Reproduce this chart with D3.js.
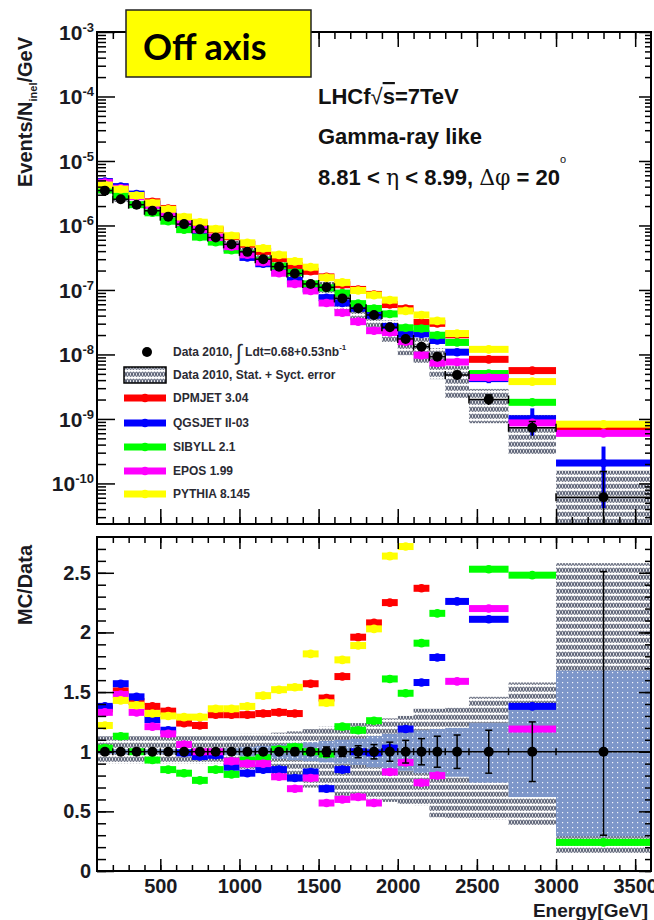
<!DOCTYPE html>
<html>
<head>
<meta charset="utf-8">
<script src="https://cdn.jsdelivr.net/npm/d3@7"></script>
<style>
  body { margin: 0; background: #fff; }
  svg { display: block; font-family: "Liberation Sans", Arial, sans-serif; }
</style>
</head>
<body>
<div id="chart"></div>
<script>
//Bin edges in GeV (26 bins)
var binEdges = [100, 200, 300, 400, 500, 600, 700, 800, 900, 1000, 1100, 1200, 1300,
  1400, 1500, 1600, 1700, 1800, 1900, 2000, 2100, 2200, 2300, 2450, 2700, 3000, 3600];

//Measured spectrum, Events/N_inel/GeV
var dataFlux = [3.47e-6, 2.55e-6, 2.10e-6, 1.69e-6, 1.37e-6, 1.05e-6, 8.7e-7, 6.5e-7,
  5.1e-7, 3.9e-7, 3.0e-7, 2.3e-7, 1.8e-7, 1.24e-7, 1.10e-7, 7.4e-8, 5.2e-8, 4.1e-8,
  2.64e-8, 1.74e-8, 1.32e-8, 9.2e-9, 4.8e-9, 2.0e-9, 7.3e-10, 6.1e-11];

//Relative stat errors of data (down / up)
var dataErrLo = [0.01, 0.01, 0.01, 0.01, 0.01, 0.015, 0.015, 0.015, 0.015, 0.02, 0.02, 0.02,
  0.03, 0.03, 0.04, 0.04, 0.05, 0.06, 0.08, 0.095, 0.11, 0.13, 0.14, 0.18, 0.25, 0.70];
var dataErrHi = [0.01, 0.01, 0.01, 0.01, 0.01, 0.015, 0.015, 0.015, 0.015, 0.02, 0.02, 0.02,
  0.03, 0.03, 0.04, 0.04, 0.05, 0.06, 0.08, 0.095, 0.11, 0.13, 0.14, 0.18, 0.25, 1.51];

//MC / Data ratios
var dpmjetRatio = [1.36, 1.51, 1.42, 1.38, 1.34, 1.24, 1.22, 1.31, 1.31, 1.31, 1.32, 1.33,
  1.32, 1.57, 1.45, 1.63, 1.96, 2.08, 2.25, 2.95, 2.37, 3.3, 4.2, 4.2, 7.7, 11.5];
var qgsjetRatio = [1.38, 1.57, 1.46, 1.27, 1.18, 0.99, 0.96, 0.97, 0.87, 0.82, 0.85, 0.85,
  0.78, 0.83, 0.69, 0.85, 1.0, 0.99, 1.03, 1.19, 1.58, 1.79, 2.26, 2.11, 1.38, 3.4];
var sibyllRatio = [1.03, 1.13, 1.0, 0.93, 0.85, 0.82, 0.76, 0.85, 0.81, 0.93, 0.95, 1.02,
  1.04, 1.0, 0.98, 1.21, 1.18, 1.26, 1.61, 1.49, 1.91, 2.16, 3.2, 2.53, 2.48, 0.24];
var eposRatio = [1.33, 1.48, 1.33, 1.21, 1.15, 1.06, 1.0, 1.0, 0.92, 0.90, 0.90, 0.79,
  0.69, 0.78, 0.57, 0.60, 0.62, 0.57, 0.83, 0.91, 0.74, 0.80, 1.59, 2.2, 1.19, 9.8];
var pythiaRatio = [1.22, 1.43, 1.39, 1.32, 1.30, 1.29, 1.29, 1.36, 1.36, 1.38, 1.47, 1.52,
  1.54, 1.82, 1.41, 1.77, 1.89, 2.03, 2.64, 2.72, 3.1, 3.6, 4.4, 6.0, 5.2, 13.6];

//QGSJET statistical error (relative), visible only at high energy
var qgsjetStatErr = [0, 0, 0, 0, 0, 0, 0, 0, 0, 0, 0, 0, 0, 0, 0, 0, 0, 0, 0, 0, 0, 0, 0,
  0.15, 0.45, 0.8];

//Stat + syst band (ratio to data)
var totalBandLo = [0.90, 0.90, 0.90, 0.90, 0.90, 0.90, 0.90, 0.90, 0.90, 0.85, 0.83, 0.80,
  0.75, 0.70, 0.66, 0.63, 0.61, 0.60, 0.58, 0.56, 0.55, 0.45, 0.44, 0.43, 0.38, 0.15];
var totalBandHi = [1.13, 1.13, 1.13, 1.13, 1.13, 1.13, 1.13, 1.13, 1.13, 1.15, 1.15, 1.16,
  1.17, 1.19, 1.21, 1.22, 1.24, 1.26, 1.28, 1.30, 1.36, 1.36, 1.37, 1.46, 1.58, 2.58];
//Inner (blue) band
var innerBandLo = [0.98, 0.98, 0.98, 0.98, 0.98, 0.98, 0.98, 0.98, 0.97, 0.96, 0.95, 0.94,
  0.93, 0.92, 0.91, 0.90, 0.89, 0.87, 0.85, 0.84, 0.82, 0.80, 0.79, 0.74, 0.62, 0.29];
var innerBandHi = [1.02, 1.02, 1.02, 1.02, 1.02, 1.02, 1.02, 1.02, 1.03, 1.04, 1.05, 1.06,
  1.07, 1.08, 1.09, 1.10, 1.11, 1.13, 1.15, 1.16, 1.18, 1.19, 1.20, 1.24, 1.40, 1.68];

var modelNames = ["DPMJET 3.04", "QGSJET II-03", "SIBYLL 2.1", "EPOS 1.99", "PYTHIA 8.145"];
var modelColors = ["#ff0000", "#0000ff", "#00ff00", "#ff00ff", "#ffff00"];
var modelRatios = [dpmjetRatio, qgsjetRatio, sibyllRatio, eposRatio, pythiaRatio];

//Tick labels
var energyTicks = [500, 1000, 1500, 2000, 2500, 3000, 3500];
var fluxDecades = [-3, -4, -5, -6, -7, -8, -9, -10];
var ratioTicks = [0, 0.5, 1, 1.5, 2, 2.5];

//SVG size
var svgWidth = 654;
var svgHeight = 920;

//Panel frames
var plotLeft = 97, plotRight = 651;
var topY0 = 32, topY1 = 524;
var ratioY0 = 537, ratioY1 = 871;

var svg = d3.select("#chart")
  .append("svg")
  .attr("width", svgWidth)
  .attr("height", svgHeight);

var defs = svg.append("defs");

//Hatch pattern for stat+syst error
var hatch = defs.append("pattern")
  .attr("id", "hatch")
  .attr("width", 6).attr("height", 7)
  .attr("patternUnits", "userSpaceOnUse");
hatch.append("rect").attr("width", 6).attr("height", 7).attr("fill", "#fff");
[1.5, 4.5].forEach(function(cx) {
  hatch.append("ellipse")
    .attr("cx", cx).attr("cy", 3.2)
    .attr("rx", 1).attr("ry", 2.2)
    .attr("fill", "none")
    .attr("stroke", "#5f6578")
    .attr("stroke-width", 1.1);
});

//Dotted blue pattern for inner band
var dots = defs.append("pattern")
  .attr("id", "bluedots")
  .attr("width", 5).attr("height", 5)
  .attr("patternUnits", "userSpaceOnUse");
dots.append("rect").attr("width", 5).attr("height", 5).attr("fill", "#7d96c9");
dots.append("rect").attr("x", 2).attr("y", 2).attr("width", 1.2).attr("height", 1.2).attr("fill", "#f4f6fb");

defs.append("clipPath").attr("id", "clipTop")
  .append("rect")
  .attr("x", plotLeft).attr("y", topY0)
  .attr("width", plotRight - plotLeft).attr("height", topY1 - topY0);
defs.append("clipPath").attr("id", "clipRatio")
  .append("rect")
  .attr("x", plotLeft).attr("y", ratioY0)
  .attr("width", plotRight - plotLeft).attr("height", ratioY1 - ratioY0);

//Scales
var xScale = d3.scaleLinear().domain([100, 3600]).range([plotLeft, plotRight]);
var yFlux = d3.scaleLog().domain([2.35e-11, 1e-3]).range([topY1, topY0]);
var yRatio = d3.scaleLinear().domain([0, 2.8]).range([ratioY1, ratioY0]);

//Bin table
var bins = dataFlux.map(function(v, i) {
  return {
    lo: binEdges[i], hi: binEdges[i + 1], mid: (binEdges[i] + binEdges[i + 1]) / 2,
    flux: v, errLo: dataErrLo[i], errHi: dataErrHi[i],
    bandLo: totalBandLo[i], bandHi: totalBandHi[i],
    innerLo: innerBandLo[i], innerHi: innerBandHi[i]
  };
});
var models = modelNames.map(function(name, i) {
  return { name: name, color: modelColors[i], ratio: modelRatios[i] };
});

// ---------- TOP PANEL ----------
var topG = svg.append("g").attr("clip-path", "url(#clipTop)");

//Data stat+syst band
topG.selectAll("rect.band").data(bins).enter().append("rect")
  .attr("class", "band")
  .attr("x", d => xScale(d.lo))
  .attr("width", d => xScale(d.hi) - xScale(d.lo))
  .attr("y", d => yFlux(d.flux * d.bandHi))
  .attr("height", d => yFlux(d.flux * d.bandLo) - yFlux(d.flux * d.bandHi))
  .attr("fill", "url(#hatch)");

//MC histograms
models.forEach(function(m) {
  var g = topG.append("g");
  g.selectAll("rect").data(bins).enter().append("rect")
    .attr("x", d => xScale(d.lo))
    .attr("width", d => xScale(d.hi) - xScale(d.lo))
    .attr("y", (d, i) => yFlux(d.flux * m.ratio[i]) - 3.5)
    .attr("height", 7)
    .attr("fill", m.color);
  if (m.ratio === qgsjetRatio) {
    g.selectAll("line").data(bins).enter().append("line")
      .attr("x1", d => xScale(d.mid)).attr("x2", d => xScale(d.mid))
      .attr("y1", (d, i) => yFlux(d.flux * m.ratio[i] * (1 + qgsjetStatErr[i])))
      .attr("y2", (d, i) => yFlux(d.flux * m.ratio[i] * (1 - qgsjetStatErr[i])))
      .attr("stroke", m.color).attr("stroke-width", 4);
  }
  g.selectAll("circle").data(bins).enter().append("circle")
    .attr("cx", d => xScale(d.mid))
    .attr("cy", (d, i) => yFlux(d.flux * m.ratio[i]))
    .attr("r", 4.3)
    .attr("fill", m.color);
});

//Data points
var dataTop = topG.append("g").attr("stroke", "#000").attr("stroke-width", 1.5);
dataTop.selectAll("line.h").data(bins).enter().append("line")
  .attr("x1", d => xScale(d.lo)).attr("x2", d => xScale(d.hi))
  .attr("y1", d => yFlux(d.flux)).attr("y2", d => yFlux(d.flux));
dataTop.selectAll("line.capl").data(bins).enter().append("line")
  .attr("x1", d => xScale(d.lo)).attr("x2", d => xScale(d.lo))
  .attr("y1", d => yFlux(d.flux) - 4).attr("y2", d => yFlux(d.flux) + 4);
dataTop.selectAll("line.capr").data(bins).enter().append("line")
  .attr("x1", d => xScale(d.hi)).attr("x2", d => xScale(d.hi))
  .attr("y1", d => yFlux(d.flux) - 4).attr("y2", d => yFlux(d.flux) + 4);
dataTop.selectAll("line.v").data(bins).enter().append("line")
  .attr("x1", d => xScale(d.mid)).attr("x2", d => xScale(d.mid))
  .attr("y1", d => yFlux(d.flux * (1 + d.errHi)))
  .attr("y2", d => yFlux(Math.max(d.flux * (1 - d.errLo), 1e-12)));
dataTop.selectAll("line.vcap").data(bins).enter().append("line")
  .attr("x1", d => xScale(d.mid) - 3.5).attr("x2", d => xScale(d.mid) + 3.5)
  .attr("y1", d => yFlux(d.flux * (1 + d.errHi)))
  .attr("y2", d => yFlux(d.flux * (1 + d.errHi)));
topG.append("g").selectAll("circle").data(bins).enter().append("circle")
  .attr("cx", d => xScale(d.mid)).attr("cy", d => yFlux(d.flux))
  .attr("r", 5).attr("fill", "#000");

// ---------- RATIO PANEL ----------
var ratioG = svg.append("g").attr("clip-path", "url(#clipRatio)");

ratioG.selectAll("rect.band").data(bins).enter().append("rect")
  .attr("x", d => xScale(d.lo))
  .attr("width", d => xScale(d.hi) - xScale(d.lo))
  .attr("y", d => yRatio(d.bandHi))
  .attr("height", d => yRatio(d.bandLo) - yRatio(d.bandHi))
  .attr("fill", "url(#hatch)");
ratioG.selectAll("rect.inner").data(bins).enter().append("rect")
  .attr("x", d => xScale(d.lo))
  .attr("width", d => xScale(d.hi) - xScale(d.lo))
  .attr("y", d => yRatio(d.innerHi))
  .attr("height", d => yRatio(d.innerLo) - yRatio(d.innerHi))
  .attr("fill", "url(#bluedots)");

models.forEach(function(m) {
  var g = ratioG.append("g");
  g.selectAll("rect").data(bins).enter().append("rect")
    .attr("x", d => xScale(d.lo))
    .attr("width", d => xScale(d.hi) - xScale(d.lo))
    .attr("y", (d, i) => yRatio(m.ratio[i]) - 3.5)
    .attr("height", 7)
    .attr("fill", m.color);
  g.selectAll("circle").data(bins).enter().append("circle")
    .attr("cx", d => xScale(d.mid))
    .attr("cy", (d, i) => yRatio(m.ratio[i]))
    .attr("r", 4.3)
    .attr("fill", m.color);
});

var dataRatio = ratioG.append("g").attr("stroke", "#000").attr("stroke-width", 1.5);
dataRatio.selectAll("line.h").data(bins).enter().append("line")
  .attr("x1", d => xScale(d.lo)).attr("x2", d => xScale(d.hi))
  .attr("y1", yRatio(1)).attr("y2", yRatio(1));
dataRatio.selectAll("line.cap").data(bins).enter().append("line")
  .attr("x1", d => xScale(d.hi)).attr("x2", d => xScale(d.hi))
  .attr("y1", yRatio(1) - 3.5).attr("y2", yRatio(1) + 3.5);
dataRatio.selectAll("line.v").data(bins).enter().append("line")
  .attr("x1", d => xScale(d.mid)).attr("x2", d => xScale(d.mid))
  .attr("y1", d => yRatio(1 + d.errHi)).attr("y2", d => yRatio(1 - d.errLo));
dataRatio.selectAll("line.ct").data(bins).enter().append("line")
  .attr("x1", d => xScale(d.mid) - 3.5).attr("x2", d => xScale(d.mid) + 3.5)
  .attr("y1", d => yRatio(1 + d.errHi)).attr("y2", d => yRatio(1 + d.errHi));
dataRatio.selectAll("line.cb").data(bins).enter().append("line")
  .attr("x1", d => xScale(d.mid) - 3.5).attr("x2", d => xScale(d.mid) + 3.5)
  .attr("y1", d => yRatio(1 - d.errLo)).attr("y2", d => yRatio(1 - d.errLo));
ratioG.append("g").selectAll("circle").data(bins).enter().append("circle")
  .attr("cx", d => xScale(d.mid)).attr("cy", yRatio(1))
  .attr("r", 5).attr("fill", "#000");

// ---------- AXES ----------
var minorEnergy = d3.range(200, 3600, 100);
var minorRatio = d3.range(0, 28).map(k => k / 10);
var minorFlux = [];
d3.range(-11, -3).forEach(function(e) {
  d3.range(2, 10).forEach(function(k) {
    var v = k * Math.pow(10, e);
    if (v > 2.35e-11 && v < 1e-3) minorFlux.push(v);
  });
});
var majorFlux = fluxDecades.map(e => Math.pow(10, e));

function tickAxis(axis, x, y) {
  var g = svg.append("g")
    .attr("transform", `translate(${x},${y})`)
    .call(axis);
  g.select(".domain").remove();
  g.selectAll(".tick line").attr("stroke", "#000").attr("stroke-width", 1.5);
  return g;
}

//Top panel ticks
tickAxis(d3.axisBottom(xScale).tickValues(minorEnergy).tickSize(-7).tickFormat(""), 0, topY1);
tickAxis(d3.axisBottom(xScale).tickValues(energyTicks).tickSize(-15).tickFormat(""), 0, topY1);
tickAxis(d3.axisTop(xScale).tickValues(minorEnergy).tickSize(-7).tickFormat(""), 0, topY0);
tickAxis(d3.axisTop(xScale).tickValues(energyTicks).tickSize(-15).tickFormat(""), 0, topY0);
tickAxis(d3.axisLeft(yFlux).tickValues(minorFlux).tickSize(-9).tickFormat(""), plotLeft, 0);
tickAxis(d3.axisLeft(yFlux).tickValues(majorFlux).tickSize(-18).tickFormat(""), plotLeft, 0);
tickAxis(d3.axisRight(yFlux).tickValues(minorFlux).tickSize(-6).tickFormat(""), plotRight, 0);
tickAxis(d3.axisRight(yFlux).tickValues(majorFlux).tickSize(-12).tickFormat(""), plotRight, 0);

//Ratio panel ticks
tickAxis(d3.axisBottom(xScale).tickValues(minorEnergy).tickSize(-6).tickFormat(""), 0, ratioY1);
var xLab = tickAxis(d3.axisBottom(xScale).tickValues(energyTicks).tickSize(-12).tickPadding(8)
  .tickFormat(d3.format("d")), 0, ratioY1);
xLab.selectAll("text")
  .attr("font-family", "Liberation Sans, Arial, sans-serif")
  .attr("font-weight", "bold").attr("font-size", 20).attr("fill", "#1a1a22");
tickAxis(d3.axisTop(xScale).tickValues(minorEnergy).tickSize(-6).tickFormat(""), 0, ratioY0);
tickAxis(d3.axisTop(xScale).tickValues(energyTicks).tickSize(-12).tickFormat(""), 0, ratioY0);
tickAxis(d3.axisLeft(yRatio).tickValues(minorRatio).tickSize(-9).tickFormat(""), plotLeft, 0);
var yLab = tickAxis(d3.axisLeft(yRatio).tickValues(ratioTicks).tickSize(-17).tickPadding(6)
  .tickFormat(d => String(d)), plotLeft, 0);
yLab.selectAll("text")
  .attr("font-family", "Liberation Sans, Arial, sans-serif")
  .attr("font-weight", "bold").attr("font-size", 20).attr("fill", "#1a1a22");
tickAxis(d3.axisRight(yRatio).tickValues(minorRatio).tickSize(-6).tickFormat(""), plotRight, 0);
tickAxis(d3.axisRight(yRatio).tickValues(ratioTicks).tickSize(-12).tickFormat(""), plotRight, 0);

//Log labels 10^n
var logLab = svg.append("g")
  .attr("font-weight", "bold").attr("fill", "#1a1a22");
fluxDecades.forEach(function(e) {
  var t = logLab.append("text")
    .attr("x", 94).attr("y", yFlux(Math.pow(10, e)) + 8)
    .attr("text-anchor", "end");
  t.append("tspan").attr("font-size", 21).text("10");
  t.append("tspan").attr("font-size", 13).attr("dy", -8).text(String(e));
});

//Frames
[[topY0, topY1], [ratioY0, ratioY1]].forEach(function(p) {
  svg.append("rect")
    .attr("x", plotLeft).attr("y", p[0])
    .attr("width", plotRight - plotLeft).attr("height", p[1] - p[0])
    .attr("fill", "none").attr("stroke", "#000").attr("stroke-width", 2);
});

//Axis titles
var yTitle = svg.append("text")
  .attr("transform", `translate(32,112) rotate(-90)`)
  .attr("text-anchor", "middle")
  .attr("font-weight", "bold").attr("font-size", 20).attr("fill", "#1a1a22");
yTitle.append("tspan").text("Events/N");
yTitle.append("tspan").attr("font-size", 11).attr("dy", 5).text("inel");
yTitle.append("tspan").attr("dy", -5).text("/GeV");

svg.append("text")
  .attr("transform", `translate(32,585) rotate(-90)`)
  .attr("text-anchor", "middle")
  .attr("font-weight", "bold").attr("font-size", 20).attr("fill", "#1a1a22")
  .text("MC/Data");

svg.append("text")
  .attr("x", 648).attr("y", 917)
  .attr("text-anchor", "end")
  .attr("font-weight", "bold").attr("font-size", 19).attr("fill", "#1a1a22")
  .text("Energy[GeV]");

//Info text
var info = svg.append("g").attr("font-weight", "bold").attr("font-size", 22).attr("fill", "#111");
var l1 = info.append("text").attr("x", 318).attr("y", 104);
l1.append("tspan").text("LHCf");
l1.append("tspan").attr("font-weight", "normal").text("\u221A");
l1.append("tspan").style("text-decoration", "overline").text("s");
l1.append("tspan").text("=7TeV");
info.append("text").attr("x", 318).attr("y", 144).text("Gamma-ray like");
var l3 = info.append("text").attr("x", 318).attr("y", 185);
l3.append("tspan").text("8.81 < ");
l3.append("tspan").attr("font-family", "DejaVu Serif, serif").attr("font-weight", "normal").text("\u03B7");
l3.append("tspan").text(" < 8.99, ");
l3.append("tspan").attr("font-family", "DejaVu Serif, serif").attr("font-weight", "normal").text("\u0394\u03C6");
l3.append("tspan").text(" = 20");
l3.append("tspan").attr("font-size", 11).attr("font-weight", "normal").attr("dy", -22).text("o");

//Legend
var legend = svg.append("g");
var legX = 124, legW = 42, textX = 173;
var legRows = [352, 375, 398, 423, 447, 471, 494];
legend.append("circle").attr("cx", 147).attr("cy", legRows[0]).attr("r", 5).attr("fill", "#000");
legend.append("rect")
  .attr("x", legX).attr("y", legRows[1] - 8).attr("width", legW).attr("height", 16)
  .attr("fill", "url(#hatch)").attr("stroke", "#000").attr("stroke-width", 1.5);
models.forEach(function(m, i) {
  var y = legRows[i + 2];
  legend.append("rect").attr("x", legX).attr("y", y - 3.5).attr("width", legW).attr("height", 7).attr("fill", m.color);
  legend.append("circle").attr("cx", legX + legW / 2).attr("cy", y).attr("r", 4.3).attr("fill", m.color);
});
var legText = legend.append("g").attr("font-weight", "bold").attr("font-size", 12).attr("fill", "#2a2a33");
var t0 = legText.append("text").attr("x", textX).attr("y", legRows[0] + 4);
t0.append("tspan").text("Data 2010, ");
t0.append("tspan").attr("font-size", 22).attr("font-weight", "normal").attr("dy", 4).text("\u222B");
t0.append("tspan").attr("dy", -4).text(" Ldt=0.68+0.53nb");
t0.append("tspan").attr("font-size", 8).attr("dy", -6).text("-1");
legText.append("text").attr("x", textX).attr("y", legRows[1] + 4).text("Data 2010, Stat. + Syct. error");
models.forEach(function(m, i) {
  legText.append("text").attr("x", textX).attr("y", legRows[i + 2] + 4).text(m.name);
});

//Off axis box
svg.append("rect")
  .attr("x", 126).attr("y", 10).attr("width", 185).attr("height", 67)
  .attr("fill", "#ffff00").attr("stroke", "#222").attr("stroke-width", 1.5);
svg.append("text")
  .attr("x", 143).attr("y", 60)
  .attr("font-family", "Lato, 'Open Sans', sans-serif")
  .attr("font-weight", "bold").attr("font-size", 36).attr("fill", "#000")
  .text("Off axis");
</script>
</body>
</html>
